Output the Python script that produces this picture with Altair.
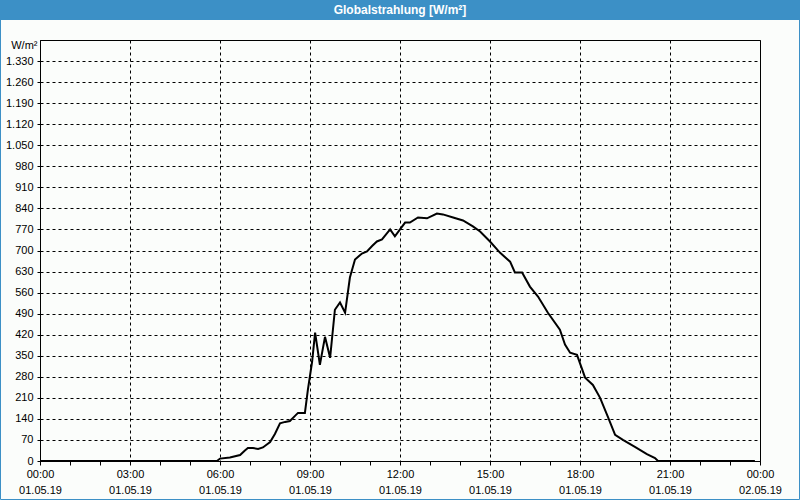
import json
import altair as alt
import pandas as pd

# ---- data ----
HOURS = [0.0, 5.9, 6.0, 6.33, 6.67, 6.83, 6.93, 7.1, 7.27, 7.43, 7.67, 7.83, 8.0, 8.17,
         8.33, 8.5, 8.6, 8.83, 8.93, 9.07, 9.17, 9.33, 9.5, 9.67, 9.83, 10.0, 10.17,
         10.33, 10.5, 10.73, 10.9, 11.07, 11.23, 11.4, 11.67, 11.83, 12.0, 12.17, 12.33,
         12.6, 12.9, 13.23, 13.43, 13.77, 14.1, 14.43, 14.67, 15.0, 15.33, 15.67, 15.83,
         16.07, 16.33, 16.6, 16.93, 17.33, 17.5, 17.67, 17.9, 18.17, 18.43, 18.67, 18.93,
         19.17, 19.43, 19.83, 20.23, 20.5, 20.6, 23.83]
VALUES = [0, 0, 8, 12, 20, 35, 43, 43, 40, 45, 63, 90, 125, 130,
          133, 150, 160, 160, 237, 330, 427, 320, 413, 343, 503, 527, 493,
          610, 670, 690, 697, 715, 730, 737, 770, 747, 770, 793, 793,
          810, 807, 823, 820, 810, 800, 780, 763, 730, 693, 663, 627,
          627, 580, 547, 493, 437, 387, 360, 353, 277, 253, 210, 147,
          87, 70, 47, 23, 10, 0, 0]

TICK_TIMES = ["00:00", "03:00", "06:00", "09:00", "12:00", "15:00", "18:00", "21:00", "00:00"]
TICK_DATES = ["01.05.19"] * 8 + ["02.05.19"]
Y_TICKS = list(range(0, 1331, 70))

TITLE = "Globalstrahlung [W/m²]"
UNIT = "W/m²"

BLUE = "#3c90c6"
BG = "#fbfdfb"
FONT = "Liberation Sans"

df = pd.DataFrame({"h": HOURS, "v": VALUES})

x_label_expr = (
    "datum.value % 3 === 0 ? [" + json.dumps(TICK_TIMES) + "[datum.value/3], "
    + json.dumps(TICK_DATES) + "[datum.value/3]] : ''"
)

line = alt.Chart(df).mark_line(color="black", strokeWidth=2).encode(
    x=alt.X(
        "h:Q",
        scale=alt.Scale(domain=[0, 24], nice=False, zero=False),
        axis=alt.Axis(
            title=None,
            values=list(range(0, 25)),
            labelExpr=x_label_expr,
            labelOverlap=False,
            labelFlush=False,
            labelFont=FONT,
            labelFontSize=11,
            labelColor="black",
            labelLineHeight=16,
            labelPadding=3,
            labelBaseline="top",
            tickSize=4,
            tickColor="black",
            domainColor="black",
            grid=True,
            gridColor="black",
            gridDash=[3, 3],
            gridOpacity={"condition": {"test": "datum.value % 3 === 0", "value": 1}, "value": 0},
        ),
    ),
    y=alt.Y(
        "v:Q",
        scale=alt.Scale(domain=[0, 1400], nice=False),
        axis=alt.Axis(
            title=UNIT,
            titleAngle=0,
            titleX=-3,
            titleY=5,
            titleAlign="right",
            titleBaseline="middle",
            titleFont=FONT,
            titleFontSize=11,
            titleFontWeight="normal",
            titleColor="black",
            values=Y_TICKS,
            labelExpr="replace(format(datum.value, ','), ',', '.')",
            labelFont=FONT,
            labelFontSize=11,
            labelColor="black",
            labelPadding=2,
            labelOverlap=False,
            tickSize=5,
            tickColor="black",
            tickDash=[3, 3],
            domainColor="black",
            grid=True,
            gridColor="black",
            gridDash=[3, 3],
        ),
    ),
)

one = alt.Data(values=[{}])

title_bar = alt.Chart(one).mark_rect(color=BLUE).encode(
    x=alt.value(-40), x2=alt.value(760), y=alt.value(-40), y2=alt.value(-20)
)
border = alt.Chart(one).mark_rect(filled=False, stroke=BLUE, strokeWidth=1).encode(
    x=alt.value(-39.5), x2=alt.value(759.5), y=alt.value(-39.5), y2=alt.value(459.5)
)
title_text = alt.Chart(one).mark_text(
    text=TITLE, color="white", font=FONT, fontSize=12, fontWeight="bold",
    align="center", baseline="middle"
).encode(x=alt.value(360), y=alt.value(-30))

chart = alt.layer(title_bar, border, title_text, line).properties(
    width=720,
    height=421,
    padding={"left": 40, "top": 40, "right": 40, "bottom": 39},
    autosize=alt.AutoSizeParams(type="none"),
    background=BG,
).configure_view(stroke="black", strokeWidth=1)

chart.save("out.html", embed_options={"renderer": "svg", "actions": False})
